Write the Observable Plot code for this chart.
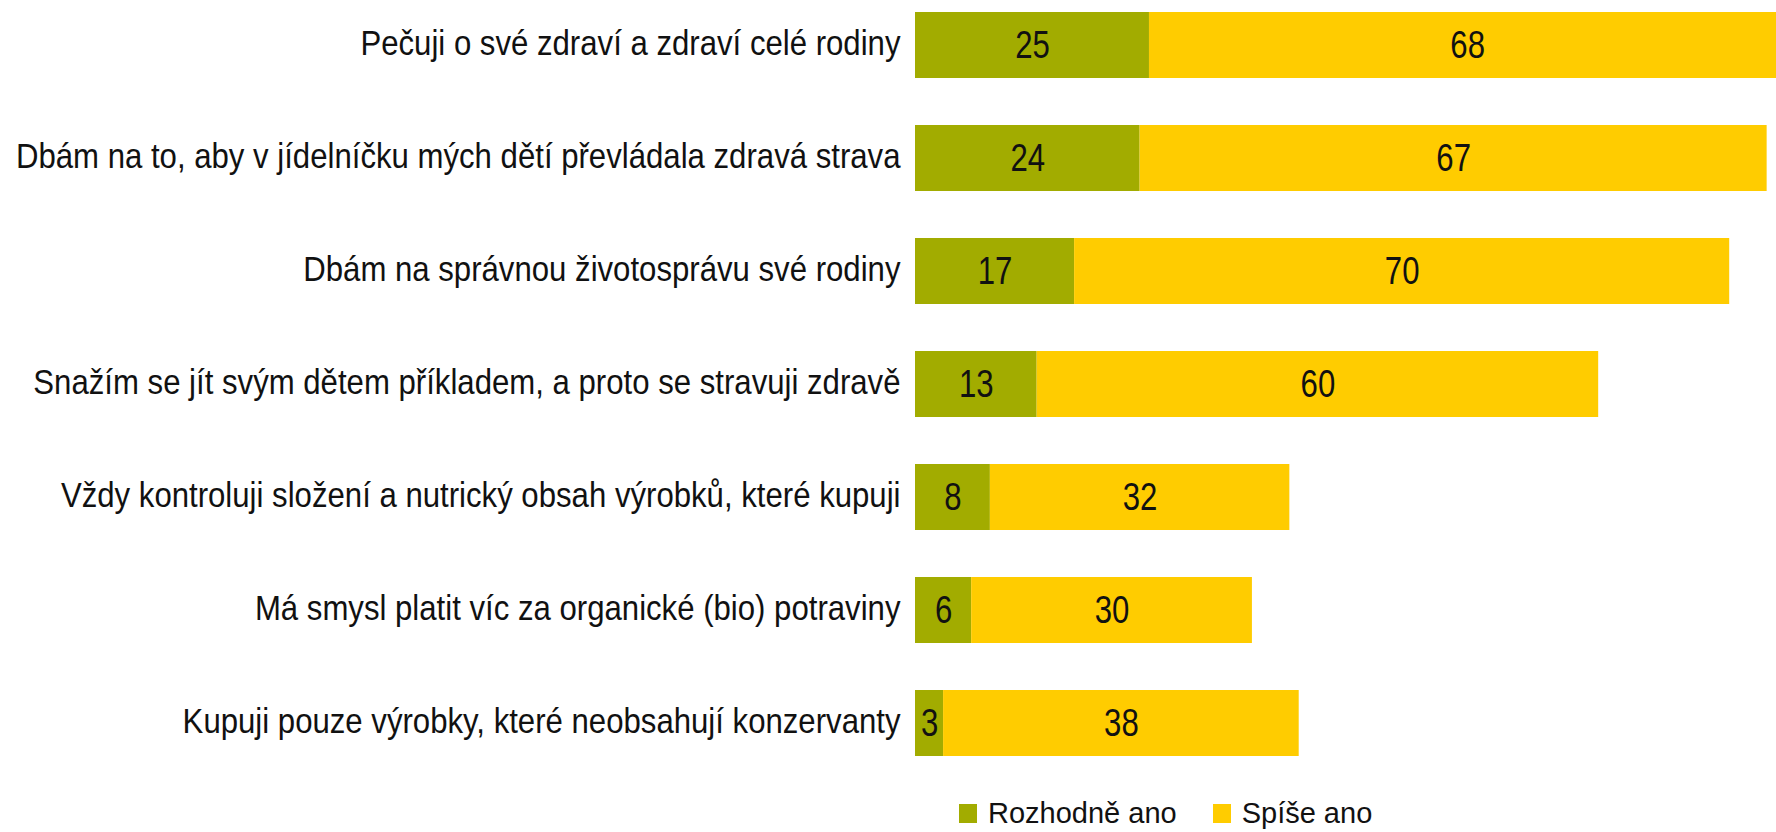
<!DOCTYPE html>
<html>
<head>
<meta charset="utf-8">
<script src="https://cdn.jsdelivr.net/npm/d3@7"></script>
<script src="https://cdn.jsdelivr.net/npm/@observablehq/plot@0.6"></script>
<style>
  html, body { margin: 0; padding: 0; background: #fff; overflow: hidden; width: 1776px; height: 832px; position: relative; }
  #chart svg { display: block; }
  .legend { position: absolute; left: 959px; top: 796px; height: 34px; display: flex; align-items: center;
    font-family: "Liberation Sans", Arial, sans-serif; font-size: 29px; color: #111; }
  .legend .item { display: flex; align-items: center; margin-right: 36px; }
  .legend .sw { width: 18px; height: 19px; margin-right: 11px; display: inline-block; }
</style>
</head>
<body>
<div id="chart"></div>
<div class="legend" id="legend"></div>
<script>
const categories = [
  "Pečuji o své zdraví a zdraví celé rodiny",
  "Dbám na to, aby v jídelníčku mých dětí převládala zdravá strava",
  "Dbám na správnou životosprávu své rodiny",
  "Snažím se jít svým dětem příkladem, a proto se stravuji zdravě",
  "Vždy kontroluji složení a nutrický obsah výrobků, které kupuji",
  "Má smysl platit víc za organické (bio) potraviny",
  "Kupuji pouze výrobky, které neobsahují konzervanty"
];
const seriesNames = ["Rozhodně ano", "Spíše ano"];
const rozhodneAno = [25, 24, 17, 13, 8, 6, 3];
const spiseAno = [68, 67, 70, 60, 32, 30, 38];
const colors = ["#a2ac00", "#ffcc00"];

const data = [];
categories.forEach((c, i) => {
  data.push({category: c, series: seriesNames[0], value: rozhodneAno[i]});
  data.push({category: c, series: seriesNames[1], value: spiseAno[i]});
});

const chart = Plot.plot({
  width: 1776,
  height: 768,
  marginLeft: 915,
  marginRight: 0,
  marginTop: 0,
  marginBottom: 0,
  style: {fontFamily: '"Liberation Sans", Arial, sans-serif', color: "#111", background: "#fff"},
  x: {domain: [0, 92], axis: null},
  y: {domain: categories, paddingInner: 0.42, paddingOuter: 0.1, axis: null},
  color: {domain: seriesNames, range: colors},
  marks: [
    Plot.barX(data, Plot.stackX({x: "value", y: "category", fill: "series", order: seriesNames, clip: true})),
    Plot.textX(data, Plot.stackX({x: "value", y: "category", z: "series", order: seriesNames, text: d => String(d.value), fill: "#111", fontSize: 38})),
    Plot.text(categories, {y: d => d, frameAnchor: "left", textAnchor: "end", dx: -15, dy: -2, fontSize: 35, fill: "#111"})
  ]
});
document.getElementById("chart").appendChild(chart);

function condenseEl(el, s) {
  const x = parseFloat(el.getAttribute("x")) || 0;
  const t = el.getAttribute("transform") || "";
  el.setAttribute("transform", `${t} translate(${x},0) scale(${s},1) translate(${-x},0)`.trim());
}
const catSet = new Set(categories);
chart.querySelectorAll("text").forEach(el => {
  const txt = el.textContent.trim();
  if (catSet.has(txt)) condenseEl(el, 0.89);
  else if (/^\d+$/.test(txt)) condenseEl(el, 0.82);
});

const legend = document.getElementById("legend");
seriesNames.forEach((s, i) => {
  const it = document.createElement("div");
  it.className = "item";
  const sw = document.createElement("span");
  sw.className = "sw";
  sw.style.background = colors[i];
  const t = document.createElement("span");
  t.textContent = s;
  it.appendChild(sw); it.appendChild(t);
  legend.appendChild(it);
});
</script>
</body>
</html>
